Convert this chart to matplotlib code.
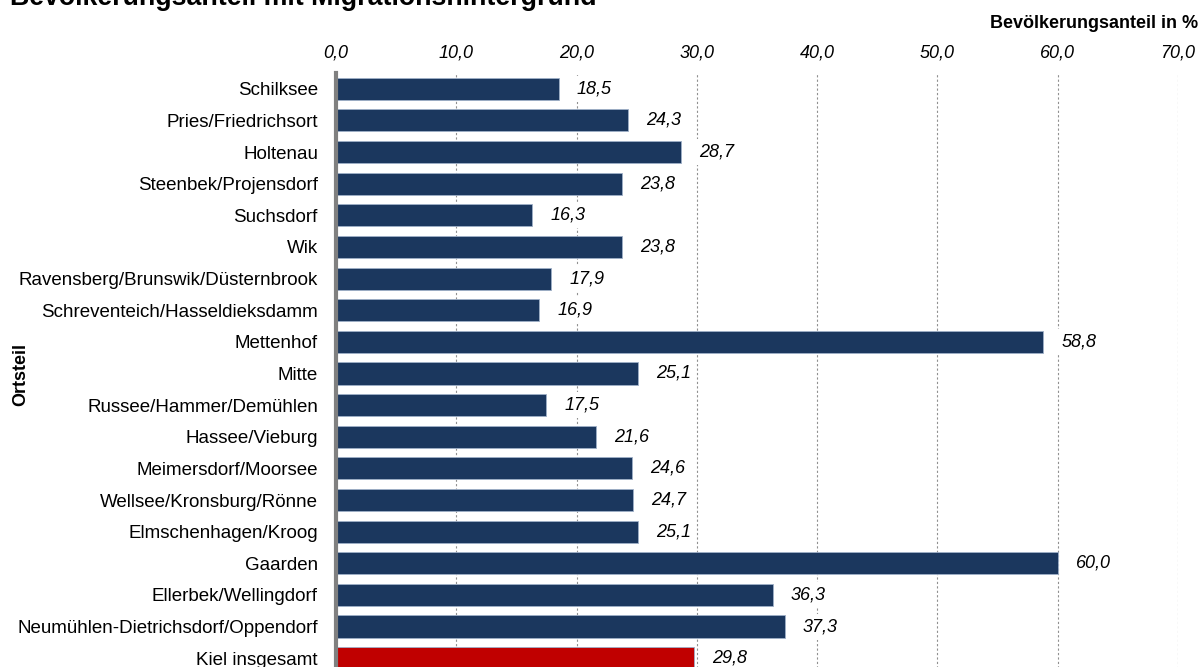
import matplotlib.pyplot as plt
from matplotlib.ticker import FuncFormatter

plt.rcParams['font.family'] = ['Liberation Sans', 'DejaVu Sans']

# Data
ortsteile = [
    "Schilksee", "Pries/Friedrichsort", "Holtenau", "Steenbek/Projensdorf",
    "Suchsdorf", "Wik", "Ravensberg/Brunswik/Düsternbrook",
    "Schreventeich/Hasseldieksdamm", "Mettenhof", "Mitte",
    "Russee/Hammer/Demühlen", "Hassee/Vieburg", "Meimersdorf/Moorsee",
    "Wellsee/Kronsburg/Rönne", "Elmschenhagen/Kroog", "Gaarden",
    "Ellerbek/Wellingdorf", "Neumühlen-Dietrichsdorf/Oppendorf",
    "Kiel insgesamt",
]
anteil = [18.5, 24.3, 28.7, 23.8, 16.3, 23.8, 17.9, 16.9, 58.8, 25.1,
          17.5, 21.6, 24.6, 24.7, 25.1, 60.0, 36.3, 37.3, 29.8]
x_ticks = [0, 10, 20, 30, 40, 50, 60, 70]

navy = "#1b375e"
red = "#c00000"
colors = [red if name == "Kiel insgesamt" else navy for name in ortsteile]

fig = plt.figure(figsize=(12.03, 6.67), dpi=100)
ax = fig.add_axes([0.2793, -0.0105, 0.6999, 0.9011])

ypos = list(range(len(ortsteile)))
ax.barh(ypos, anteil, height=0.7, color=colors, edgecolor="#9fb0c8",
        linewidth=0.6, zorder=2)

for y, v in zip(ypos, anteil):
    ax.annotate(f"{v:.1f}".replace(".", ","), xy=(v, y), xytext=(13, 0),
                textcoords="offset points", va="center", ha="left",
                fontsize=13, style="italic", zorder=4,
                bbox=dict(boxstyle="square,pad=0.25", fc="white", ec="none"))

ax.set_xlim(0, 70)
ax.set_ylim(len(ortsteile) - 0.5, -0.5)
ax.set_yticks(ypos)
ax.set_yticklabels(ortsteile, fontsize=13.5)
ax.tick_params(axis="y", length=0, pad=13)

ax.xaxis.tick_top()
ax.set_xticks(x_ticks)
ax.xaxis.set_major_formatter(FuncFormatter(lambda v, p: f"{v:.1f}".replace(".", ",")))
ax.tick_params(axis="x", length=0, pad=8, labelsize=13)
for lbl in ax.get_xticklabels():
    lbl.set_style("italic")

ax.grid(axis="x", linestyle=(0, (2, 2)), color="#909090", linewidth=0.8, zorder=0)
ax.set_axisbelow(True)
for s in ["top", "right", "bottom"]:
    ax.spines[s].set_visible(False)
ax.spines["left"].set_color("#808080")
ax.spines["left"].set_linewidth(3)
ax.spines["left"].set_zorder(3)

fig.text(0.0083, 0.9925, "Bevölkerungsanteil mit Migrationshintergrund",
         fontsize=19.3, fontweight="bold", va="baseline", ha="left")
fig.text(0.996, 0.965, "Bevölkerungsanteil in %", fontsize=13,
         fontweight="bold", va="center", ha="right")
fig.text(0.017, 0.438, "Ortsteil", fontsize=13, fontweight="bold",
         rotation=90, va="center", ha="center")

fig.savefig("out.png", dpi=100)
